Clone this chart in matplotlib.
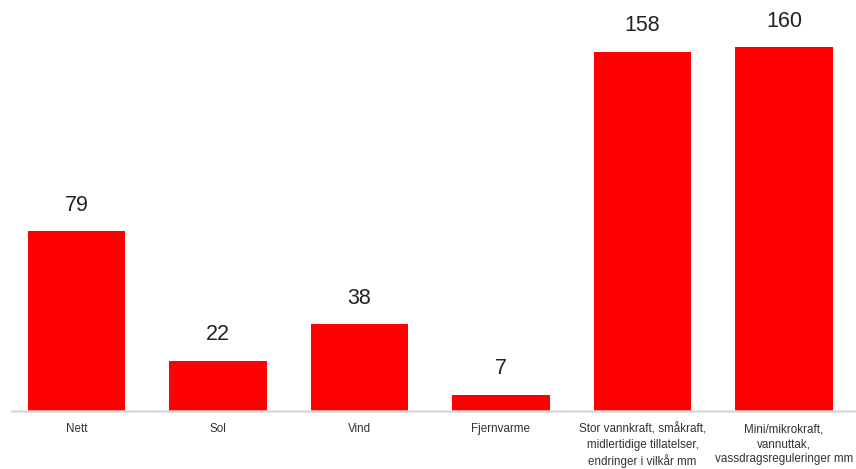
import matplotlib
matplotlib.use("Agg")
import matplotlib.pyplot as plt
from matplotlib.patches import Rectangle

categories = ["Nett", "Sol", "Vind", "Fjernvarme",
              "Stor vannkraft, småkraft,\nmidlertidige tillatelser,\nendringer i vilkår mm",
              "Mini/mikrokraft,\nvannuttak,\nvassdragsreguleringer mm"]
values = [79, 22, 38, 7, 158, 160]

W, H = 856, 469
fig = plt.figure(figsize=(W/100, H/100), dpi=100)
left_px, right_px, base_px = 12, 856, 410.5
ax = fig.add_axes([left_px/W, (H-base_px)/H, (right_px-left_px)/W, base_px/H])

scale = 141.5
x0 = -(76.5 - left_px)/scale
x1 = x0 + (right_px-left_px)/scale
ax.set_xlim(x0, x1)
ymax = base_px/2.272
ax.set_ylim(0, ymax)

xs = range(len(values))
bars = ax.bar(xs, values, width=0.686, color="#ff0000", zorder=2)
for b, v in zip(bars, values):
    ax.annotate(str(v), (b.get_x()+b.get_width()/2, v), xytext=(0, 11), textcoords="offset points",
                ha="center", va="bottom", fontsize=15.5, color="#222222", family="Liberation Sans")

for s in ["top", "right", "left"]:
    ax.spines[s].set_visible(False)
ax.spines["bottom"].set_color("#d9d9d9")
ax.spines["bottom"].set_linewidth(1.8)
ax.set_yticks([])
ax.set_xticks(list(xs))
ax.set_xticklabels(categories, fontsize=8.4, family="Liberation Sans", color="#333333", linespacing=1.35)
ax.tick_params(axis="x", length=0, pad=9)

fig.patches.append(Rectangle((789/W, (H-7)/H), (W-789)/W, 7/H, transform=fig.transFigure,
                             facecolor="#f0f0f0", edgecolor="none", zorder=-1))

fig.savefig("out.png", dpi=100)
